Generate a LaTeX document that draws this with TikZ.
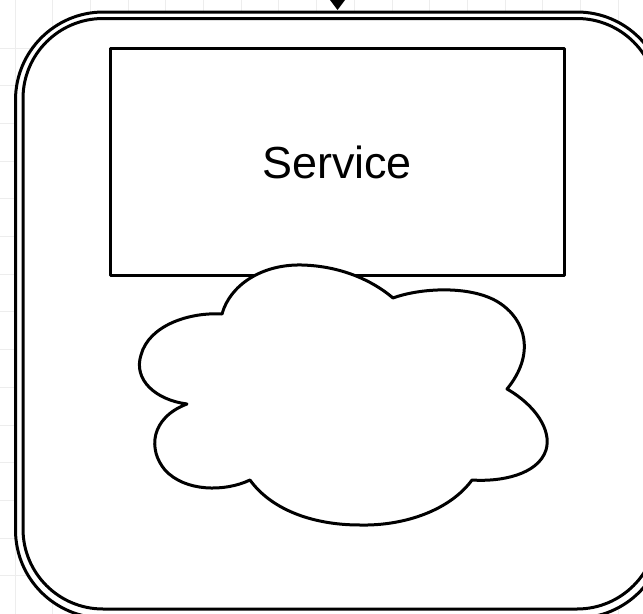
\documentclass[tikz,border=0pt]{standalone}
\usepackage{fontspec}
\setmainfont{Liberation Sans}
\tikzset{
  every path/.style={line join=round},
  outl/.style={draw=black,line width=2.25pt},
  gridl/.style={draw=black!7,line width=0.75pt},
  boxs/.style={draw=black,line width=2.25pt,fill=white,minimum width=454*0.75pt,minimum height=227*0.75pt,inner sep=0pt,outer sep=0pt,anchor=north west,font=\fontsize{33.7}{36}\selectfont}
}
\begin{document}
\begin{tikzpicture}[x=0.75pt,y=-0.75pt]
\useasboundingbox (0,0) rectangle (643,614);
\fill[white] (0,0) rectangle (643,614);
\foreach \k in {0,...,16} \draw[gridl] (15+37.7*\k,0) -- (15+37.7*\k,614);
\foreach \k in {0,...,14} \draw[gridl] (0,48+37.7*\k) -- (643,48+37.7*\k);
\draw[outl,fill=white,rounded corners=88*0.75pt] (15.5,12) rectangle (665,618);
\draw[outl,rounded corners=80*0.75pt] (23,18.5) rectangle (657,609);
\fill[black] (330,0) -- (345,0) -- (337.5,10) -- cycle;
\node[boxs] (svc) at (110,48.5) {Service};
\path[outl,fill=white] (222,314)
  .. controls (230,285) and (262,264) .. (302,265)
  .. controls (340,266) and (372,280) .. (393,298)
  .. controls (420,288) and (470,285) .. (498,302)
  .. controls (527,320) and (535,355) .. (507,389)
  .. controls (535,405) and (552,430) .. (546,450)
  .. controls (538,475) and (500,482) .. (472,480)
  .. controls (450,510) and (405,526) .. (360,525)
  .. controls (310,525) and (270,508) .. (250,480)
  .. controls (225,492) and (185,492) .. (165,470)
  .. controls (148,450) and (150,418) .. (187,404)
  .. controls (156,400) and (133,380) .. (141,355)
  .. controls (149,325) and (190,312) .. (222,314)
  -- cycle;
\end{tikzpicture}
\end{document}
